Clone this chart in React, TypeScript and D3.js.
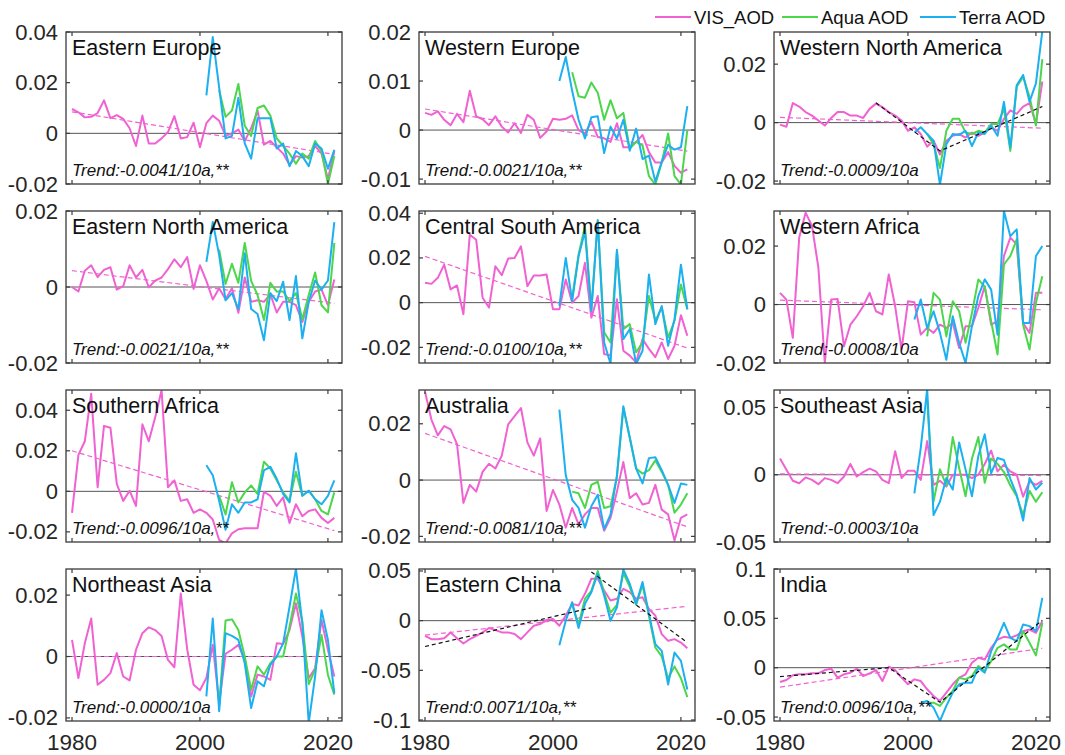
import React from 'react';
import * as d3 from 'd3';

const width = 1065;
const height = 755;
const colLeft = [66, 419, 774];
const rowTop = [32, 211, 390, 569];
const panelW = 276;
const panelH = 152;
const font = '"Liberation Sans", Arial, Helvetica, sans-serif';

const VIS_COLOR = '#f062d2';
const AQUA_COLOR = '#4cd64c';
const TERRA_COLOR = '#1cb0f0';

const VIS_YEARS = d3.range(1980, 2022);
const TERRA_YEARS = d3.range(2001, 2022);
const AQUA_YEARS = d3.range(2003, 2022);
const X_TICKS = [1980, 2000, 2020];

const REGIONS = [
  'Eastern Europe', 'Western Europe', 'Western North America',
  'Eastern North America', 'Central South America', 'Western Africa',
  'Southern Africa', 'Australia', 'Southeast Asia',
  'Northeast Asia', 'Eastern China', 'India',
];

const TREND_LABELS = [
  'Trend:-0.0041/10a,**', 'Trend:-0.0021/10a,**', 'Trend:-0.0009/10a',
  'Trend:-0.0021/10a,**', 'Trend:-0.0100/10a,**', 'Trend:-0.0008/10a',
  'Trend:-0.0096/10a,**', 'Trend:-0.0081/10a,**', 'Trend:-0.0003/10a',
  'Trend:-0.0000/10a', 'Trend:0.0071/10a,**', 'Trend:0.0096/10a,**',
];

const Y_DOMAINS = [
  [-0.02, 0.04], [-0.011, 0.02], [-0.021, 0.031],
  [-0.02, 0.02], [-0.027, 0.041], [-0.02, 0.032],
  [-0.025, 0.05], [-0.022, 0.032], [-0.05, 0.063],
  [-0.021, 0.0285], [-0.101, 0.052], [-0.054, 0.1],
];

const Y_TICKS = [
  [-0.02, 0, 0.02, 0.04], [-0.01, 0, 0.01, 0.02], [-0.02, 0, 0.02],
  [-0.02, 0, 0.02], [-0.02, 0, 0.02, 0.04], [-0.02, 0, 0.02],
  [-0.02, 0, 0.02, 0.04], [-0.02, 0, 0.02], [-0.05, 0, 0.05],
  [-0.02, 0, 0.02], [-0.1, -0.05, 0, 0.05], [-0.05, 0, 0.05, 0.1],
];

// linear trend of VIS_AOD, value at 1980 and at 2021
const TREND_ENDS = [
  [0.0085, -0.0083], [0.0043, -0.0043], [0.0018, -0.0019],
  [0.0043, -0.0043], [0.0207, -0.0203], [0.0015, -0.0018],
  [0.0200, -0.0194], [0.0166, -0.0166], [0.0006, -0.0006],
  [0.0, 0.0], [-0.0146, 0.0145], [-0.0197, 0.0197],
];

// piecewise fits (black dashed), [year, value]
const PIECEWISE_WNA = [[[1995, 0.0068], [2005, -0.0097], [2021, 0.0055]]];
const PIECEWISE_EC = [[[1980, -0.026], [2006, 0.013]], [[2006, 0.049], [2021, -0.022]]];
const PIECEWISE_IN = [[[1980, -0.009], [1997, 0.0], [2005, -0.035], [2021, 0.048]]];

// ---- VIS_AOD 1980-2021 ----
const visEE = [0.0096, 0.0083, 0.0063, 0.0065, 0.0080, 0.0130, 0.0060, 0.0072, 0.0057, 0.0020,
  -0.0050, 0.0070, -0.0040, -0.0040, -0.0020, 0.0005, 0.0068, -0.0020, -0.0015, 0.0042,
  -0.0055, 0.0040, 0.0070, 0.0050, -0.0010, 0.0000, 0.0015, -0.0030, 0.0020, 0.0090,
  -0.0045, -0.0030, -0.0055, -0.0080, -0.0125, -0.0090, -0.0095, -0.0090, -0.0050, -0.0080,
  -0.0180, -0.0070];
const visWE = [0.0035, 0.0031, 0.0038, 0.0021, 0.0010, 0.0033, 0.0016, 0.0080, 0.0028, 0.0022,
  0.0010, 0.0028, 0.0007, -0.0005, 0.0014, -0.0006, 0.0031, 0.0021, -0.0016, -0.0003,
  0.0023, 0.0021, 0.0023, 0.0030, 0.0000, -0.0007, 0.0017, -0.0014, -0.0017, -0.0024,
  0.0014, -0.0035, -0.0035, -0.0024, -0.0010, -0.0045, -0.0066, -0.0066, -0.0045, -0.0073,
  -0.0087, -0.0080];
const visWNA = [-0.0007, -0.0014, 0.0067, 0.0055, 0.0036, 0.0024, 0.0007, -0.0010, 0.0016, 0.0036,
  0.0036, 0.0024, 0.0024, 0.0016, 0.0047, 0.0065, 0.0053, 0.0036, 0.0024, 0.0007,
  -0.0028, -0.0016, -0.0039, -0.0082, -0.0062, -0.0109, -0.0062, -0.0045, -0.0039, -0.0051,
  -0.0034, -0.0045, -0.0034, -0.0016, -0.0028, 0.0013, 0.0042, 0.0030, 0.0055, 0.0067,
  -0.0005, 0.0140];
const visENA = [0.0000, -0.0012, 0.0043, 0.0057, 0.0026, 0.0045, 0.0052, -0.0007, 0.0002, 0.0057,
  0.0025, 0.0045, -0.0001, 0.0017, 0.0025, 0.0047, 0.0073, 0.0052, 0.0079, -0.0005,
  0.0057, 0.0016, -0.0033, -0.0003, -0.0032, -0.0003, -0.0068, 0.0025, -0.0039, -0.0035,
  -0.0039, -0.0019, -0.0067, -0.0039, -0.0039, -0.0048, -0.0092, -0.0039, -0.0012, -0.0007,
  -0.0048, 0.0020];
const visCSA = [0.0089, 0.0084, 0.0111, 0.0170, 0.0059, 0.0077, -0.0052, 0.0304, 0.0281, 0.0022,
  -0.0022, 0.0163, 0.0123, 0.0197, 0.0200, 0.0252, 0.0074, 0.0121, 0.0121, 0.0126,
  -0.0030, -0.0030, 0.0104, 0.0000, 0.0030, 0.0178, -0.0067, 0.0030, -0.0230, -0.0237,
  0.0015, -0.0215, -0.0237, -0.0267, -0.0163, -0.0207, -0.0244, -0.0178, -0.0252, -0.0193,
  -0.0056, -0.0148];
const visWAF = [0.0040, 0.0017, -0.0114, 0.0229, 0.0314, 0.0269, 0.0126, -0.0200, 0.0017, 0.0019,
  -0.0143, -0.0069, -0.0040, -0.0006, 0.0040, -0.0023, -0.0034, 0.0103, -0.0006, -0.0154,
  0.0011, 0.0008, -0.0103, -0.0080, -0.0097, -0.0069, -0.0080, -0.0063, -0.0149, -0.0074,
  -0.0074, -0.0011, 0.0063, -0.0069, -0.0057, 0.0166, 0.0229, 0.0206, -0.0063, -0.0097,
  0.0040, 0.0040];
const visSAF = [-0.0106, 0.0180, 0.0247, 0.0482, 0.0020, 0.0323, 0.0314, 0.0037, -0.0047, 0.0003,
  -0.0072, 0.0331, 0.0247, 0.0365, 0.0499, 0.0020, 0.0054, -0.0047, -0.0039, -0.0106,
  -0.0089, -0.0106, -0.0139, -0.0240, -0.0257, -0.0207, -0.0187, -0.0182, -0.0182, -0.0182,
  -0.0002, -0.0022, -0.0072, -0.0030, -0.0156, -0.0064, -0.0123, -0.0097, -0.0089, -0.0131,
  -0.0156, -0.0131];
const visAUS = [0.0314, 0.0215, 0.0159, 0.0192, 0.0180, 0.0128, -0.0081, -0.0017, -0.0041, 0.0029,
  0.0058, 0.0041, 0.0087, 0.0198, 0.0227, 0.0256, 0.0134, 0.0087, 0.0148, -0.0110,
  -0.0035, -0.0087, -0.0169, -0.0099, -0.0157, -0.0122, -0.0099, -0.0099, -0.0180, -0.0134,
  -0.0041, 0.0064, -0.0064, -0.0047, -0.0087, -0.0081, -0.0017, -0.0105, -0.0122, -0.0215,
  -0.0134, -0.0122];
const visSEA = [0.0120, 0.0038, -0.0045, -0.0063, -0.0020, -0.0038, -0.0070, -0.0025, -0.0038, -0.0063,
  -0.0013, 0.0080, -0.0013, 0.0020, 0.0045, 0.0025, -0.0038, -0.0063, 0.0175, -0.0025,
  0.0030, 0.0030, -0.0038, 0.0250, -0.0075, -0.0045, -0.0088, 0.0000, 0.0000, 0.0000,
  -0.0025, 0.0000, 0.0080, 0.0180, 0.0025, 0.0075, 0.0025, 0.0000, -0.0163, -0.0050,
  -0.0075, -0.0045];
const visNEA = [0.0054, -0.0070, 0.0043, 0.0124, -0.0092, -0.0076, -0.0054, 0.0011, -0.0065, -0.0078,
  0.0022, 0.0076, 0.0095, 0.0086, 0.0067, -0.0011, -0.0035, 0.0205, 0.0024, -0.0092,
  -0.0110, -0.0070, 0.0038, -0.0151, 0.0009, 0.0022, 0.0038, -0.0011, -0.0130, -0.0059,
  -0.0065, -0.0076, 0.0043, 0.0041, 0.0086, 0.0173, 0.0065, -0.0070, -0.0038, 0.0119,
  0.0022, -0.0065];
const visEC = [-0.0152, -0.0186, -0.0186, -0.0176, -0.0118, -0.0176, -0.0230, -0.0186, -0.0152, -0.0118,
  -0.0074, -0.0095, -0.0118, -0.0118, -0.0135, -0.0186, -0.0118, -0.0051, -0.0034, 0.0007,
  0.0017, -0.0051, 0.0051, 0.0169, 0.0152, 0.0270, 0.0422, 0.0422, 0.0304, 0.0203,
  0.0220, 0.0321, 0.0287, 0.0220, 0.0236, 0.0118, 0.0051, -0.0135, -0.0203, -0.0186,
  -0.0220, -0.0277];
const visIN = [-0.0145, -0.0125, -0.0077, -0.0067, -0.0067, -0.0057, -0.0057, -0.0024, -0.0010, -0.0101,
  -0.0067, -0.0051, -0.0010, -0.0084, -0.0057, -0.0024, -0.0135, 0.0010, -0.0024, -0.0101,
  -0.0168, -0.0118, -0.0135, -0.0219, -0.0286, -0.0337, -0.0253, -0.0168, -0.0101, -0.0067,
  0.0051, 0.0101, 0.0084, 0.0202, 0.0286, 0.0313, 0.0303, 0.0327, 0.0370, 0.0387,
  0.0354, 0.0470];

// ---- Terra AOD 2001-2021 ----
const terraEE = [0.015, 0.038, 0.018, -0.002, -0.001, 0.014, -0.004, -0.010, 0.006, 0.006,
  0.006, -0.006, -0.004, -0.013, -0.007, -0.009, -0.013, -0.004, -0.006, -0.014, -0.0065];
const terraWE = [0.0100, 0.0149, 0.0080, 0.0021, -0.0017, 0.0026, 0.0028, -0.0047, 0.0007, -0.0017,
  0.0021, -0.0042, 0.0003, -0.0059, -0.0052, -0.0105, -0.0065, -0.0030, -0.0040, -0.0035, 0.0049];
const terraWNA = [-0.0034, -0.0016, -0.0039, -0.0062, -0.0213, -0.0074, -0.0039, -0.0042, -0.0028, -0.0080,
  -0.0034, -0.0039, -0.0010, -0.0045, 0.0071, -0.0086, 0.0128, 0.0163, 0.0071, 0.0134, 0.0313];
const terraENA = [0.0066, 0.0171, 0.0084, -0.0035, -0.0016, -0.0058, 0.0089, -0.0058, -0.0071, -0.0140,
  -0.0016, -0.0037, 0.0014, -0.0087, 0.0029, -0.0135, -0.0039, 0.0017, -0.0007, 0.0017, 0.0171];
const terraCSA = [-0.0015, 0.0200, 0.0007, 0.0207, 0.0319, -0.0037, 0.0370, -0.0178, -0.0274, 0.0237,
  -0.0163, -0.0119, -0.0274, -0.0215, 0.0126, -0.0096, -0.0015, -0.0193, -0.0074, 0.0170, -0.0030];
const terraWAF = [-0.0051, 0.0017, -0.0080, -0.0023, -0.0097, -0.0189, -0.0040, -0.0131, -0.0200, -0.0074,
  0.0029, 0.0086, 0.0051, -0.0103, 0.0320, 0.0234, 0.0257, -0.0063, -0.0063, 0.0166, 0.0200];
const terraSAF = [0.0129, 0.0079, -0.0047, -0.0190, -0.0064, -0.0106, -0.0055, -0.0055, -0.0039, 0.0104,
  0.0121, 0.0062, -0.0013, -0.0055, 0.0188, -0.0022, 0.0003, -0.0039, -0.0064, -0.0022, 0.0054];
const terraAUS = [0.0250, 0.0017, -0.0070, -0.0099, -0.0169, -0.0093, -0.0052, -0.0174, -0.0122, 0.0017,
  0.0262, 0.0151, 0.0041, -0.0012, 0.0078, 0.0081, 0.0035, -0.0017, -0.0081, -0.0012, -0.0017];
const terraSEA = [-0.0138, 0.0200, 0.0638, -0.0300, -0.0200, -0.0025, -0.0110, 0.0240, 0.0040, -0.0160,
  0.0140, 0.0300, 0.0010, 0.0125, 0.0110, -0.0030, -0.0150, -0.0340, -0.0025, -0.0110, -0.0060];
const terraNEA = [-0.0130, 0.0124, -0.0178, 0.0076, 0.0067, 0.0054, -0.0022, -0.0168, -0.0081, -0.0097,
  -0.0027, 0.0000, 0.0043, 0.0162, 0.0286, 0.0108, -0.0216, -0.0065, 0.0151, 0.0054, -0.0119];
const terraEC = [-0.0247, 0.0000, 0.0186, -0.0074, 0.0169, 0.0287, 0.0473, 0.0253, 0.0000, 0.0135,
  0.0514, 0.0372, 0.0169, 0.0389, 0.0068, -0.0236, -0.0304, -0.0642, -0.0321, -0.0405, -0.0693];
const terraIN = [null, -0.0354, -0.0337, -0.0404, -0.0539, -0.0387, -0.0253, -0.0168, -0.0152, -0.0152,
  0.0000, -0.0051, 0.0168, 0.0303, 0.0455, 0.0303, 0.0269, 0.0438, 0.0421, 0.0370, 0.0707];

// ---- Aqua AOD 2003-2021 ----
const aquaEE = [0.017, 0.0065, 0.009, 0.0195, 0.003, -0.001, 0.010, 0.011, 0.007, -0.002,
  -0.005, -0.008, -0.012, -0.008, -0.010, -0.003, -0.007, -0.020, -0.009];
const aquaWE = [0.0118, 0.0069, 0.0066, 0.0097, 0.0076, 0.0021, 0.0061, 0.0024, 0.0035, -0.0038,
  -0.0024, -0.0031, -0.0094, -0.0111, -0.0066, -0.0007, -0.0094, -0.0111, 0.0000];
const aquaWNA = [-0.0039, -0.0074, -0.0155, -0.0028, 0.0013, 0.0013, -0.0034, -0.0039, -0.0028, -0.0034,
  -0.0005, -0.0005, 0.0047, -0.0097, 0.0123, 0.0157, 0.0088, -0.0010, 0.0217];
const aquaENA = [0.0098, 0.0008, 0.0061, 0.0011, 0.0116, 0.0016, -0.0021, -0.0087, 0.0011, -0.0012,
  -0.0012, -0.0037, -0.0016, -0.0085, -0.0021, 0.0038, -0.0048, -0.0067, 0.0116];
const aquaCSA = [0.0022, 0.0215, 0.0341, -0.0030, 0.0363, -0.0133, -0.0178, 0.0230, -0.0119, -0.0096,
  -0.0222, -0.0178, 0.0030, -0.0081, -0.0022, -0.0156, -0.0081, 0.0081, -0.0030];
const aquaWAF = [-0.0109, 0.0040, 0.0017, -0.0109, 0.0011, -0.0023, -0.0131, -0.0029, 0.0086, 0.0061,
  -0.0057, -0.0171, 0.0137, 0.0166, 0.0223, -0.0069, -0.0154, 0.0006, 0.0097];
const aquaSAF = [-0.0022, -0.0114, 0.0045, -0.0055, -0.0005, 0.0029, -0.0013, 0.0146, 0.0113, 0.0054,
  -0.0005, -0.0047, 0.0096, -0.0022, 0.0003, -0.0039, -0.0097, -0.0114, -0.0005];
const aquaAUS = [-0.0041, -0.0047, -0.0099, -0.0017, -0.0006, -0.0099, -0.0093, 0.0012, 0.0256, 0.0151,
  0.0041, 0.0023, 0.0035, 0.0070, 0.0029, -0.0017, -0.0116, -0.0087, -0.0047];
const aquaSEA = [0.0550, -0.0200, 0.0040, -0.0080, 0.0280, 0.0050, -0.0160, 0.0120, 0.0280, -0.0060,
  0.0120, 0.0080, 0.0020, -0.0080, -0.0160, -0.0300, -0.0120, -0.0200, -0.0130];
const aquaNEA = [-0.0160, 0.0117, 0.0121, 0.0086, 0.0000, -0.0108, -0.0032, -0.0059, -0.0022, 0.0000,
  0.0000, 0.0097, 0.0205, 0.0114, -0.0090, -0.0043, 0.0070, -0.0060, -0.0124];
const aquaEC = [0.0160, -0.0040, 0.0220, 0.0300, 0.0500, 0.0280, 0.0080, 0.0160, 0.0480, 0.0340,
  0.0160, 0.0360, 0.0050, -0.0270, -0.0360, -0.0580, -0.0460, -0.0580, -0.0770];
const aquaIN = [-0.0354, -0.0354, -0.0387, -0.0303, -0.0236, -0.0101, -0.0118, -0.0084, 0.0017, -0.0034,
  0.0067, 0.0202, 0.0236, 0.0185, 0.0185, 0.0370, 0.0253, 0.0125, 0.0455];

const VIS = [visEE, visWE, visWNA, visENA, visCSA, visWAF, visSAF, visAUS, visSEA, visNEA, visEC, visIN];
const TERRA = [terraEE, terraWE, terraWNA, terraENA, terraCSA, terraWAF, terraSAF, terraAUS, terraSEA, terraNEA, terraEC, terraIN];
const AQUA = [aquaEE, aquaWE, aquaWNA, aquaENA, aquaCSA, aquaWAF, aquaSAF, aquaAUS, aquaSEA, aquaNEA, aquaEC, aquaIN];
const PIECEWISE = [null, null, PIECEWISE_WNA, null, null, null, null, null, null, null, PIECEWISE_EC, PIECEWISE_IN];

const fmt = (v: number) => String(Math.round(v * 1000) / 1000);

function Panel({ i }: { i: number }) {
  const left = colLeft[i % 3];
  const top = rowTop[Math.floor(i / 3)];
  const x = d3.scaleLinear().domain([1979.06, 2022.2]).range([left, left + panelW]);
  const y = d3.scaleLinear().domain(Y_DOMAINS[i]).range([top + panelH, top]);
  const line = d3.line<[number, number | null]>()
    .defined(d => d[1] != null)
    .x(d => x(d[0]))
    .y(d => y(d[1] as number));
  const zip = (years: number[], vals: (number | null)[]) =>
    years.map((yr, k) => [yr, vals[k]] as [number, number | null]);
  const clipId = `clip${i}`;
  const tick = 4;
  const bottomRow = Math.floor(i / 3) === 3;

  return (
    <g>
      <clipPath id={clipId}>
        <rect x={left} y={top} width={panelW} height={panelH} />
      </clipPath>
      <rect x={left} y={top} width={panelW} height={panelH} fill="#fff" />
      <g clipPath={`url(#${clipId})`}>
        <line x1={left} x2={left + panelW} y1={y(0)} y2={y(0)} stroke="#555" strokeWidth={1} />
        <path
          d={line([[1980, TREND_ENDS[i][0]], [2021, TREND_ENDS[i][1]]]) || ''}
          fill="none" stroke={VIS_COLOR} strokeWidth={1.2} strokeDasharray="5,3"
        />
        <path d={line(zip(VIS_YEARS, VIS[i])) || ''} fill="none" stroke={VIS_COLOR} strokeWidth={2} strokeLinejoin="round" />
        <path d={line(zip(AQUA_YEARS, AQUA[i])) || ''} fill="none" stroke={AQUA_COLOR} strokeWidth={2} strokeLinejoin="round" />
        <path d={line(zip(TERRA_YEARS, TERRA[i])) || ''} fill="none" stroke={TERRA_COLOR} strokeWidth={2} strokeLinejoin="round" />
        {PIECEWISE[i] && PIECEWISE[i]!.map((seg, k) => (
          <path key={k} d={line(seg as [number, number][]) || ''} fill="none"
            stroke="#111" strokeWidth={1.2} strokeDasharray="4,3" />
        ))}
      </g>
      <text x={left + 6} y={top + 23} fontSize={21.5} fill="#111">{REGIONS[i]}</text>
      <text x={left + 6} y={top + panelH - 8} fontSize={17} fontStyle="italic" fill="#111">{TREND_LABELS[i]}</text>
      <rect x={left} y={top} width={panelW} height={panelH} fill="none" stroke="#3a3a3a" strokeWidth={1.3} />
      {Y_TICKS[i].map(v => (
        <g key={v}>
          <line x1={left} x2={left + tick} y1={y(v)} y2={y(v)} stroke="#3a3a3a" strokeWidth={1.2} />
          <line x1={left + panelW - tick} x2={left + panelW} y1={y(v)} y2={y(v)} stroke="#3a3a3a" strokeWidth={1.2} />
          <text x={left - 8} y={y(v)} textAnchor="end" dominantBaseline="central" fontSize={22} fill="#262626">{fmt(v)}</text>
        </g>
      ))}
      {X_TICKS.map(v => (
        <g key={v}>
          <line x1={x(v)} x2={x(v)} y1={top + panelH} y2={top + panelH - tick} stroke="#3a3a3a" strokeWidth={1.2} />
          <line x1={x(v)} x2={x(v)} y1={top} y2={top + tick} stroke="#3a3a3a" strokeWidth={1.2} />
          {bottomRow && (
            <text x={x(v)} y={750} textAnchor="middle" fontSize={22.5} fill="#262626">{v}</text>
          )}
        </g>
      ))}
    </g>
  );
}

const LEGEND = [
  { label: 'VIS_AOD', color: VIS_COLOR, x: 655 },
  { label: 'Aqua AOD', color: AQUA_COLOR, x: 782 },
  { label: 'Terra AOD', color: TERRA_COLOR, x: 920 },
];

export default function App() {
  return (
    <svg
      width={width}
      height={height}
      style={{ position: 'absolute', left: 0, top: 0, background: '#fff' }}
      fontFamily={font}
    >
      {REGIONS.map((_, i) => <Panel key={i} i={i} />)}
      {LEGEND.map(d => (
        <g key={d.label}>
          <line x1={d.x} x2={d.x + 36} y1={17} y2={17} stroke={d.color} strokeWidth={2} />
          <text x={d.x + 39} y={24} fontSize={18.5} fill="#111">{d.label}</text>
        </g>
      ))}
    </svg>
  );
}
